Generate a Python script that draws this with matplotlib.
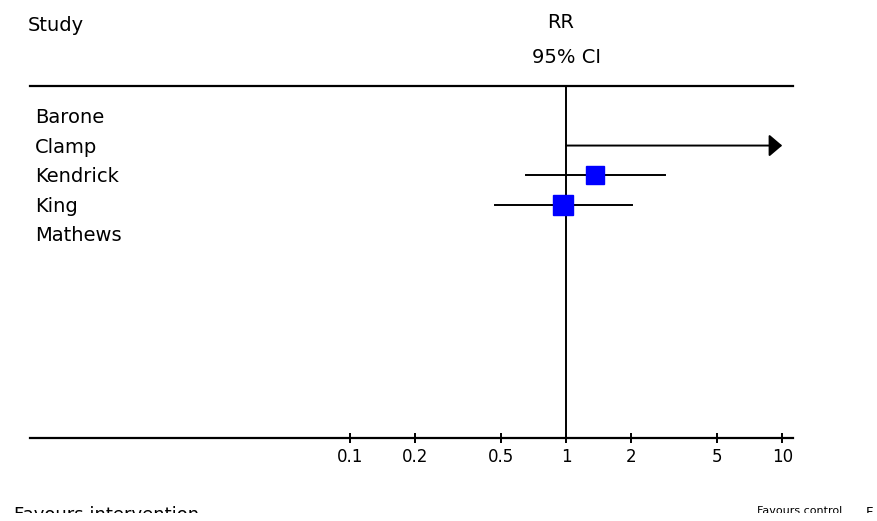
import numpy as np
import matplotlib.pyplot as plt
import matplotlib.transforms as mtransforms

plt.rcParams['font.family'] = ['DejaVu Sans']

# data
studies = ["Barone", "Clamp", "Kendrick", "King", "Mathews"]
rr = [np.nan, np.nan, 1.36, 0.97, np.nan]
ci_low = [np.nan, 1.0, 0.65, 0.47, np.nan]
ci_high = [np.nan, 10.0, 2.87, 2.02, np.nan]
weight = [0, 0, 12.5, 14.0, 0]
tick_vals = [0.1, 0.2, 0.5, 1, 2, 5, 10]
tick_labels = ["0.1", "0.2", "0.5", "1", "2", "5", "10"]

W, H = 878, 521
fig = plt.figure(figsize=(W / 100, H / 100), dpi=100)
ax = fig.add_axes([30 / W, 1 - 438 / H, 763 / W, 352 / H])
ax.set_xscale('log')
ax.set_xlim(10 ** -2.48, 10 ** 1.05)
ax.set_ylim(10.92, -1.02)

for s in ['left', 'right']:
    ax.spines[s].set_visible(False)
ax.spines['top'].set_linewidth(1.6)
ax.spines['bottom'].set_linewidth(1.6)

ax.axvline(1, color='black', lw=1.4, zorder=1)

# names: x in figure pixels, y on the row
trans = mtransforms.blended_transform_factory(fig.transFigure, ax.transData)
for i, name in enumerate(studies):
    ax.text(35 / W, i + 0.24, name, ha='left', va='baseline', fontsize=14,
            transform=trans)
    if np.isnan(ci_low[i]):
        continue
    if np.isnan(rr[i]):
        # CI runs past the axis -> arrow
        ax.annotate('', xy=(ci_high[i], i), xytext=(ci_low[i], i),
                    arrowprops=dict(arrowstyle='-|>,head_length=0.4,head_width=0.34',
                                    color='black', lw=1.4,
                                    mutation_scale=20, shrinkA=0, shrinkB=0))
    else:
        ax.plot([ci_low[i], ci_high[i]], [i, i], color='black', lw=1.4, zorder=2)
        ax.plot(rr[i], i, marker='s', ms=weight[i], color='#0000ff',
                mec='#0000ff', zorder=3)

ax.set_yticks([])
ax.xaxis.set_minor_locator(plt.NullLocator())
ax.set_xticks(tick_vals)
ax.set_xticklabels(tick_labels, fontsize=12)
ax.tick_params(axis='x', direction='inout', length=7, width=1.4, pad=4)

# header
fig.text(28 / W, 1 - 31 / H, "Study", ha='left', va='baseline', fontsize=14)
fig.text(561 / W, 1 - 28 / H, "RR", ha='center', va='baseline', fontsize=14)
fig.text(566 / W, 1 - 63 / H, "95% CI", ha='center', va='baseline', fontsize=14)

# footer, cut off at the bottom like the original
fax = fig.add_axes([0, 1 - 513 / H, 1, 7 / H])
fax.axis('off')
for x, s, fs in [(14, "Favours intervention", 13), (757, "Favours control", 8),
                 (866, "F", 9.5)]:
    fax.text(x / W, 1.05, s, ha='left', va='top', fontsize=fs,
             transform=fax.transAxes, clip_on=True)

fig.savefig('out.png', dpi=100)
